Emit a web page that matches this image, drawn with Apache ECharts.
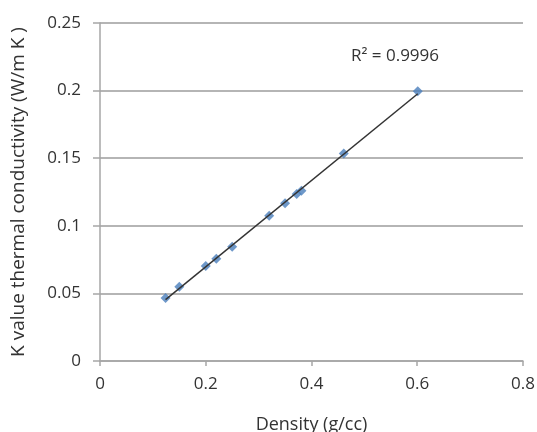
<!DOCTYPE html>
<html>
<head>
<meta charset="utf-8">
<script src="https://cdn.jsdelivr.net/npm/echarts@6/dist/echarts.min.js"></script>
<style>html,body{margin:0;padding:0;background:#fff}#c{width:537px;height:432px}</style>
</head>
<body>
<div id="c"></div>
<script>
const density = [0.124, 0.15, 0.2, 0.22, 0.25, 0.32, 0.35, 0.372, 0.381, 0.461, 0.601];
const kValue  = [0.0466, 0.055, 0.0703, 0.0757, 0.0845, 0.1075, 0.1166, 0.1235, 0.126, 0.1535, 0.1995];
const xTicks = [0, 0.2, 0.4, 0.6, 0.8];
const yTicks = [0, 0.05, 0.1, 0.15, 0.2, 0.25];
const r2Label = 'R² = 0.9996';
const xTitle = 'Density (g/cc)';
const yTitle = 'K value thermal conductivity (W/m K )';

// least-squares trendline
const n = density.length;
let sx=0, sy=0, sxx=0, sxy=0;
for (let i=0;i<n;i++){ sx+=density[i]; sy+=kValue[i]; sxx+=density[i]*density[i]; sxy+=density[i]*kValue[i]; }
const slope = (n*sxy - sx*sy)/(n*sxx - sx*sx);
const icpt = (sy - slope*sx)/n;
const xmin = Math.min(...density), xmax = Math.max(...density);
const trend = [[xmin, icpt+slope*xmin],[xmax, icpt+slope*xmax]];

const font = '"Open Sans", "Noto Sans", sans-serif';
const txt = '#333333';
const chart = echarts.init(document.getElementById('c'), null, {renderer:'canvas'});
chart.setOption({
  animation:false,
  grid:{left:100, right:14, top:23, bottom:71, containLabel:false, outerBoundsMode:'none'},
  xAxis:{
    type:'value', min:xTicks[0], max:xTicks[xTicks.length-1], interval:xTicks[1]-xTicks[0],
    name:xTitle, nameLocation:'middle', nameGap:55,
    nameTextStyle:{color:txt, fontSize:18, fontFamily:font},
    axisLine:{show:true, onZero:false, lineStyle:{color:'#a6a6a6', width:1.5}},
    axisTick:{show:true, length:5, lineStyle:{color:'#a6a6a6', width:1.5}},
    axisLabel:{color:txt, fontSize:17, fontFamily:font, margin:15, formatter:v=>String(+v.toFixed(1))},
    splitLine:{show:false}
  },
  yAxis:{
    type:'value', min:yTicks[0], max:yTicks[yTicks.length-1], interval:yTicks[1]-yTicks[0],
    name:yTitle, nameLocation:'middle', nameGap:72,
    nameTextStyle:{color:txt, fontSize:19, fontFamily:font},
    axisLine:{show:true, onZero:false, lineStyle:{color:'#a6a6a6', width:1.5}},
    axisTick:{show:true, length:7, lineStyle:{color:'#a6a6a6', width:1.5}},
    axisLabel:{color:txt, fontSize:17, fontFamily:font, margin:19, formatter:v=>String(+v.toFixed(2))},
    splitLine:{show:true, lineStyle:{color:'#b5b5b5', width:2}}
  },
  series:[
    {type:'line', data:trend, symbol:'none', lineStyle:{color:'#333333', width:1.5}, z:3},
    {type:'scatter', data:density.map((d,i)=>[d,kValue[i]]), symbol:'diamond', symbolSize:10,
     itemStyle:{color:'#4a7ebb'}, z:2}
  ],
  graphic:[{type:'text', left:351, top:48, style:{text:r2Label, fill:txt, font:'17px '+font}}]
});
</script>
</body>
</html>
